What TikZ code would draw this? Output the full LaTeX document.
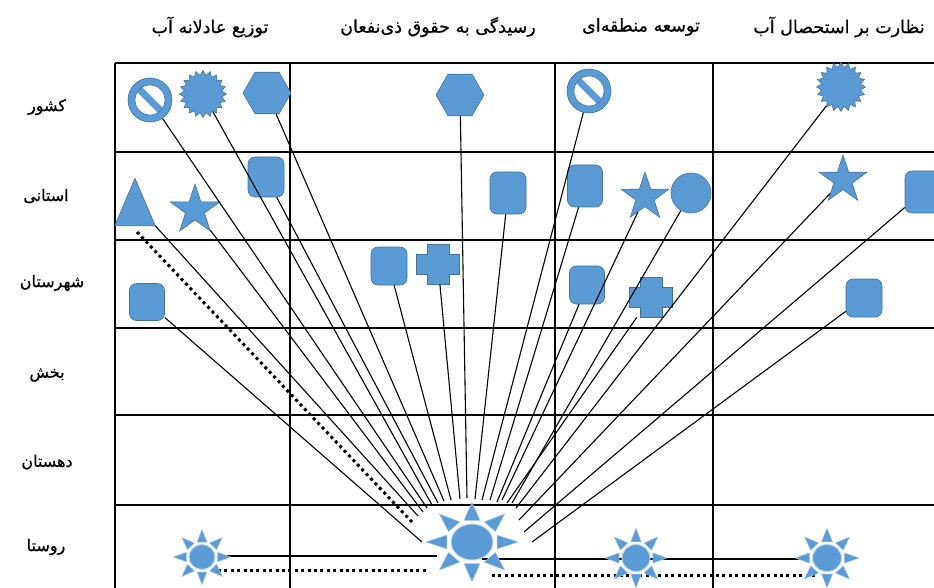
\documentclass[tikz,border=0pt]{standalone}
\usepackage{fontspec}
\usetikzlibrary{shapes.geometric,calc}
\newfontfamily\fafont[Script=Arabic, FakeBold=0.6]{DejaVu Sans}
\TeXXeTstate=1
\definecolor{shapefill}{HTML}{5B9BD5}
\definecolor{shapeedge}{HTML}{41719C}
\newcommand{\fatext}[1]{{\fafont\beginR #1\endR}}

\tikzset{
  gridline/.style={line width=1.4pt, black},
  link/.style={line width=1.1pt, black},
  dotlink/.style={line width=3pt, black, dash pattern=on 3pt off 3.4pt},
  blueshape/.style={fill=shapefill, draw=shapeedge, line width=0.6pt, inner sep=0pt},
  rsq/.style={blueshape, rectangle, rounded corners=7pt, minimum width=36pt, minimum height=40pt},
  hexa/.style={blueshape, regular polygon, regular polygon sides=6, minimum size=48pt},
  starfive/.style={blueshape, star, star points=5, star point ratio=2.6, minimum size=52pt},
  seal/.style={blueshape, star, star points=20, star point ratio=1.25, minimum size=47pt},
  nosign/.style={blueshape, circle, minimum size=44pt},
  disc/.style={blueshape, circle, minimum size=40pt},
  holder/.style={inner sep=0pt, rectangle},
  headlabel/.style={font=\fontsize{17.5}{20}\selectfont, inner sep=0pt},
  rowlabel/.style={font=\fontsize{16}{19}\selectfont, inner sep=0pt},
  sunc/.style={fill=shapefill, draw=shapefill!40, line width=1pt, ellipse, inner sep=0pt},
  sunray/.style={fill=shapefill, draw=shapefill!55, line width=0.5pt},
}

% ring with a diagonal bar
\newcommand{\makenosign}[2]{%
  \node[nosign] (#1) at #2 {};
  \begin{scope}
    \fill[white] (#1.center) circle (15);
    \clip (#1.center) circle (15);
    \draw[shapefill, line width=7pt] ($(#1.center)+(-17,-17)$) -- ($(#1.center)+(17,17)$);
  \end{scope}
  \draw[shapeedge, line width=0.6pt] (#1.center) circle (15);
}

% plus-shaped block: name, centre
\newcommand{\makeplus}[2]{%
  \node[holder, minimum width=43pt, minimum height=40pt] (#1) at #2 {};
  \filldraw[blueshape] ($(#1.center)+(-11,-20)$) -- ($(#1.center)+(11,-20)$) --
    ($(#1.center)+(11,-10)$) -- ($(#1.center)+(21.5,-10)$) -- ($(#1.center)+(21.5,10)$) --
    ($(#1.center)+(11,10)$) -- ($(#1.center)+(11,20)$) -- ($(#1.center)+(-11,20)$) --
    ($(#1.center)+(-11,10)$) -- ($(#1.center)+(-21.5,10)$) -- ($(#1.center)+(-21.5,-10)$) --
    ($(#1.center)+(-11,-10)$) -- cycle;
}

% sun: name, x, y, rx, ry
\newcommand{\makesun}[5]{%
  \begin{scope}[shift={(#2,#3)}, xscale=#4, yscale=#5]
    \foreach \a in {0,45,...,315}{
      \filldraw[sunray] ({1.2*cos(\a)-0.38*sin(\a)},{1.2*sin(\a)+0.38*cos(\a)}) --
        ({2.2*cos(\a)},{2.2*sin(\a)}) --
        ({1.2*cos(\a)+0.38*sin(\a)},{1.2*sin(\a)-0.38*cos(\a)}) -- cycle;
    }
  \end{scope}
  \node[sunc, minimum width={2*#4}, minimum height={2*#5}] (#1) at (#2,#3) {};
}

\begin{document}
\begin{tikzpicture}[x=1pt, y=-1pt]
\useasboundingbox (0,0) rectangle (934,588);
\fill[white] (0,0) rectangle (934,588);

% column headings
\node[headlabel] (hd1) at (210,27) {\fatext{توزیع عادلانه آب}};
\node[headlabel] (hd2) at (438,27) {\fatext{رسیدگی به حقوق ذی^^^^200cنفعان}};
\node[headlabel] (hd3) at (641,27) {\fatext{توسعه منطقه^^^^200cای}};
\node[headlabel] (hd4) at (839,27) {\fatext{نظارت بر استحصال آب}};

% row headings
\node[rowlabel] (rw1) at (47,107) {\fatext{کشور}};
\node[rowlabel] (rw2) at (46,196) {\fatext{استانی}};
\node[rowlabel] (rw3) at (52,283) {\fatext{شهرستان}};
\node[rowlabel] (rw4) at (47,375) {\fatext{بخش}};
\node[rowlabel] (rw5) at (47,462) {\fatext{دهستان}};
\node[rowlabel] (rw6) at (46,547) {\fatext{روستا}};

% table grid
\foreach \yy in {63,152,240,328,415,505}
  \draw[gridline] (115,\yy) -- (940,\yy);
\foreach \xx in {115,290,555,713}
  \draw[gridline] (\xx,63) -- (\xx,594);

% --- shapes, first column
\makenosign{nsA}{(150,100)}
\node[seal] (slA) at (203,94) {};
\node[hexa] (hxA) at (267,93) {};
\node[holder, minimum width=40pt, minimum height=47pt] (tri) at (135,202) {};
\filldraw[blueshape] (tri.south west) -- (tri.north) -- (tri.south east) -- cycle;
\node[starfive] (stA) at (195,210) {};
\node[rsq] (sqA1) at (266,177) {};
\node[rsq, minimum width=35pt, minimum height=37pt] (sqA2) at (147,302) {};

% --- shapes, second column
\node[hexa] (hxB) at (460,95) {};
\node[rsq, minimum height=42pt] (sqB1) at (508,193) {};
\node[rsq, minimum height=38pt] (sqB2) at (389,266) {};
\makeplus{pxB}{(438,264)}

% --- shapes, third column
\makenosign{nsC}{(589,91)}
\node[rsq, minimum width=35pt, minimum height=42pt] (sqC1) at (585,186) {};
\node[starfive, minimum size=50pt] (stC) at (645,197) {};
\node[disc] (dcC) at (691,193) {};
\node[rsq, minimum width=35pt, minimum height=38pt] (sqC2) at (587,285) {};
\makeplus{pxC}{(651,297)}

% --- shapes, fourth column
\node[seal, minimum size=49pt] (slD) at (841,87) {};
\node[starfive, minimum size=50pt] (stD) at (843,180) {};
\node[rsq, minimum height=42pt] (sqD1) at (923,192) {};
\node[rsq, minimum height=38pt] (sqD2) at (864,298) {};

% meeting points round the central sun
\coordinate (e01) at (422,542);
\coordinate (e02) at (412,522);
\coordinate (e03) at (418,516);
\coordinate (e04) at (423,512);
\coordinate (e05) at (427,508);
\coordinate (e06) at (432,505);
\coordinate (e07) at (438,503);
\coordinate (e08) at (444,501);
\coordinate (e09) at (451,500);
\coordinate (e10) at (460,499);
\coordinate (e11) at (467,498);
\coordinate (e12) at (475,499);
\coordinate (e13) at (482,500);
\coordinate (e14) at (490,500);
\coordinate (e15) at (497,502);
\coordinate (e16) at (502,500);
\coordinate (e17) at (507,503);
\coordinate (e18) at (512,503);
\coordinate (e19) at (516,508);
\coordinate (e20) at (519,520);
\coordinate (e21) at (524,532);
\coordinate (e22) at (532,542);
\coordinate (tridot) at (137,232);

% links to the central sun
\draw[link] (sqA2) -- (e01);
\draw[dotlink] (tridot) -- (e02);
\draw[link] (tri.south east) -- (e03);
\draw[link] (stA) -- (e04);
\draw[link] (nsA) -- (e05);
\draw[link] (slA) -- (e06);
\draw[link] (sqA1) -- (e07);
\draw[link] (hxA) -- (e08);
\draw[link] (sqB2) -- (e09);
\draw[link] (pxB) -- (e10);
\draw[link] (hxB) -- (e11);
\draw[link] (sqB1) -- (e12);
\draw[link] (nsC) -- (e13);
\draw[link] (sqC1) -- (e14);
\draw[link] (sqC2) -- (e15);
\draw[link] (stC) -- (e16);
\draw[link] (pxC) -- (e17);
\draw[link] (dcC) -- (e18);
\draw[link] (slD) -- (e19);
\draw[link] (stD) -- (e20);
\draw[link] (sqD1) -- (e21);
\draw[link] (sqD2) -- (e22);

% village row links
\coordinate (va) at (226,556);
\coordinate (vb) at (437,556);
\coordinate (vc) at (218,570);
\coordinate (vd) at (428,570);
\coordinate (ve) at (482,559);
\coordinate (vf) at (800,559);
\coordinate (vg) at (492,575);
\coordinate (vh) at (817,575);
\draw[link] (va) -- (vb);
\draw[dotlink] (vc) -- (vd);
\draw[link] (ve) -- (vf);
\draw[dotlink] (vg) -- (vh);

% suns in the village row
\makesun{sunA}{202}{557}{13}{12.5}
\makesun{sunB}{472}{542}{21}{18}
\makesun{sunC}{636}{558}{14}{13.5}
\makesun{sunD}{827}{558}{14.5}{13.5}
\end{tikzpicture}
\end{document}
